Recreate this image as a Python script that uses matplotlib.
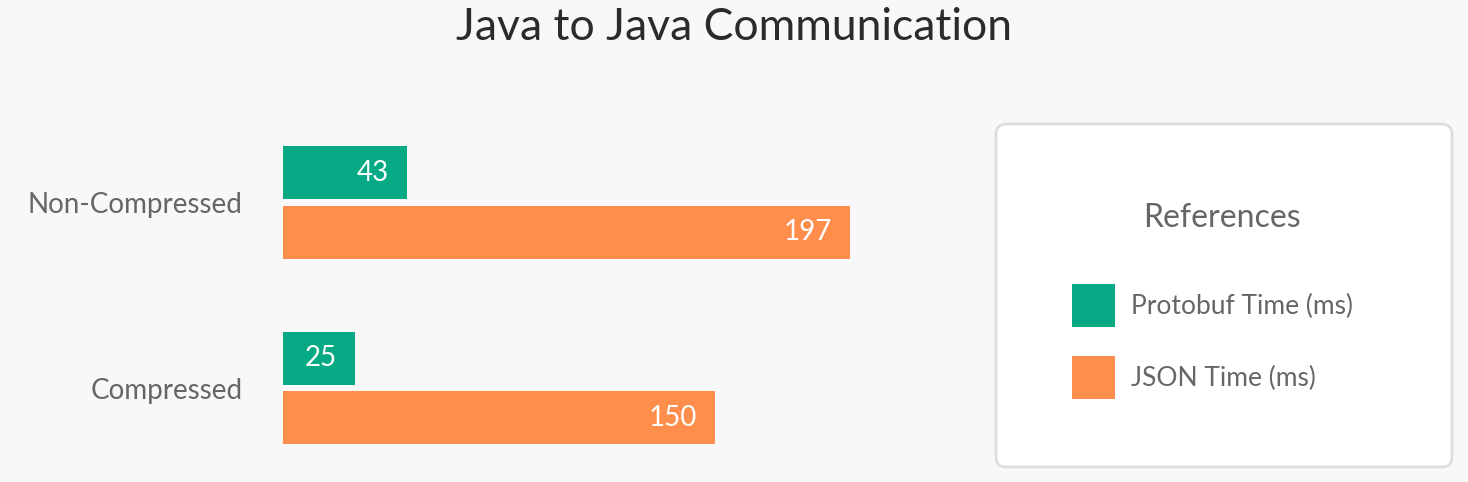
import matplotlib
matplotlib.use('Agg')
import matplotlib.pyplot as plt
from matplotlib.patches import FancyBboxPatch

# Global font: Lato is the closest installed match to the reference's Avenir look
plt.rcParams['font.family'] = 'Lato'

# Chart data
categories = ['Non-Compressed', 'Compressed']
protobuf_ms = [43, 25]
json_ms = [197, 150]
series_names = ['Protobuf Time (ms)', 'JSON Time (ms)']
title = 'Java to Java Communication'
legend_title = 'References'

green = '#05AA85'
orange = '#FF8E4D'
bg = '#F8F8F8'
grey_text = '#666666'


def main():
    fig = plt.figure(figsize=(14.68, 4.82), dpi=100, facecolor=bg)

    # Axes placed so that bars start at x=283px and 197 ends at 850px
    ax = fig.add_axes([283 / 1468, 32 / 482, 567 / 1468, 310 / 482])
    ax.set_facecolor(bg)

    ys = list(range(len(categories)))
    h = 0.285
    off = 0.161
    b1 = ax.barh([y - off for y in ys], protobuf_ms, height=h, color=green, label=series_names[0])
    b2 = ax.barh([y + off for y in ys], json_ms, height=h, color=orange, label=series_names[1])

    # Value labels inside the right end of each bar
    for vals, shift in ((protobuf_ms, -off), (json_ms, off)):
        for y, v in zip(ys, vals):
            ax.annotate(str(v), xy=(v, y + shift), xytext=(-13, 0), textcoords='offset points',
                        ha='right', va='center', color='white', fontsize=20)

    ax.set_xlim(0, 197)
    ax.set_ylim(1.334, -0.337)
    ax.set_xticks([])
    ax.set_yticks(ys)
    ax.set_yticklabels(categories, fontsize=20, color=grey_text, va='center_baseline')
    ax.tick_params(axis='y', length=0, pad=29)
    for s in ax.spines.values():
        s.set_visible(False)

    # Title
    fig.text(0.5, 1 - 27 / 482, title, ha='center', va='center', fontsize=32, color='#2b2b2b')

    # Legend card with rounded corners
    card = FancyBboxPatch((9.96, 0.15), 4.56, 3.43, boxstyle='round,pad=0,rounding_size=0.1',
                          transform=fig.dpi_scale_trans, facecolor='white', edgecolor='#DDDDDD',
                          linewidth=2)
    fig.add_artist(card)
    fig.text(1222 / 1468, 1 - 218 / 482, legend_title, ha='center', va='center',
             fontsize=23, color=grey_text)
    fig.legend(handles=[b1, b2], labels=series_names, loc='upper left',
               bbox_to_anchor=(1072 / 1468, 1 - 284 / 482), frameon=False,
               borderpad=0, borderaxespad=0, fontsize=19, labelcolor=grey_text,
               handlelength=1.63, handleheight=2.13, handletextpad=0.6, labelspacing=1.1)

    fig.savefig('out.png', dpi=100, facecolor=bg)


if __name__ == '__main__':
    main()
